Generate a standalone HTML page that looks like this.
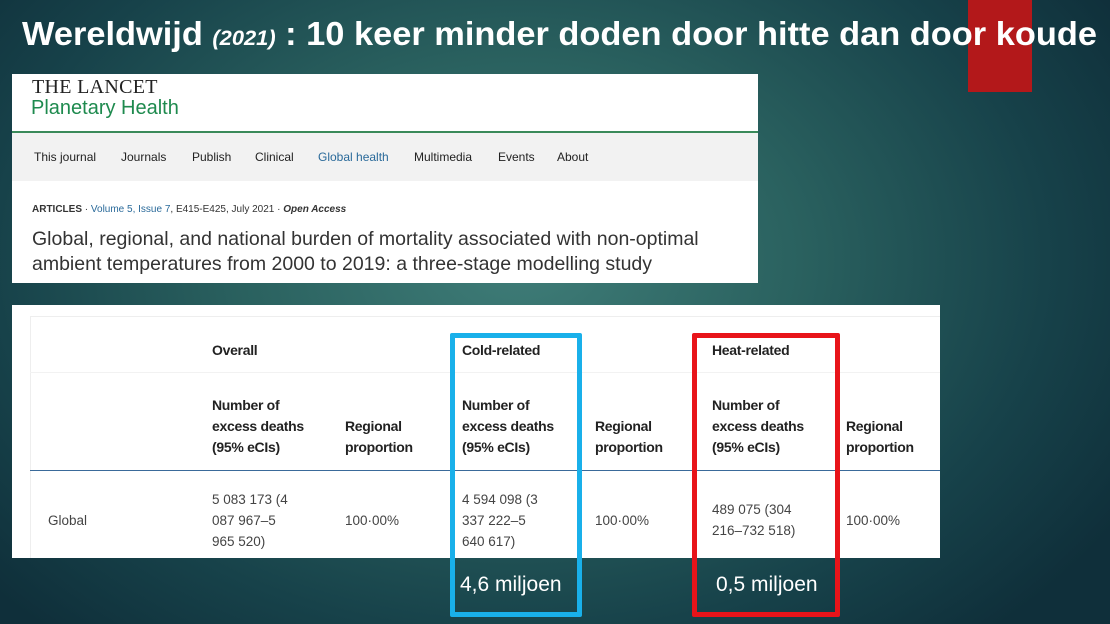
<!DOCTYPE html>
<html><head><meta charset="utf-8"><style>
*{margin:0;padding:0;box-sizing:border-box}
body{width:1110px;height:624px;overflow:hidden;position:relative;font-family:"Liberation Sans",sans-serif;
background:radial-gradient(ellipse 700px 500px at 520px 260px,#3f7d78 0%,#2a615f 40%,#17424a 75%,#0f2f3a 100%);}
.a{position:absolute}
.nav{position:absolute;top:150px;font-size:12px;color:#222}
.th{position:absolute;font-size:14px;font-weight:bold;color:#222;line-height:21px;letter-spacing:-0.3px}
.td{position:absolute;font-size:13.5px;color:#444;line-height:21px}
</style></head><body>
<svg class="a" style="left:0;top:0" width="1110" height="100">
<rect x="968" y="0" width="64" height="92" fill="#b3181a"/>
<text x="22" y="45" fill="#fff" font-family="Liberation Sans,sans-serif" font-weight="bold" font-size="33" textLength="1075" lengthAdjust="spacingAndGlyphs">Wereldwijd <tspan font-style="italic" font-size="21">(2021)</tspan> :  10 keer minder doden door hitte dan door koude</text>
</svg>

<div class="a" style="left:12px;top:74px;width:746px;height:209px;background:#fff">
 <div class="a" style="left:20px;top:2px;font-family:'Liberation Serif',serif;font-size:20px;color:#222;letter-spacing:0.3px">THE LANCET</div>
 <div class="a" style="left:19px;top:23px;font-size:20px;color:#1e8a4e">Planetary Health</div>
 <div class="a" style="left:0;top:57px;width:746px;height:2px;background:#3a8a5a"></div>
 <div class="a" style="left:0;top:59px;width:746px;height:48px;background:#f2f2f2"></div>
 <div class="nav" style="left:22px;top:76px">This journal</div>
 <div class="nav" style="left:109px;top:76px">Journals</div>
 <div class="nav" style="left:180px;top:76px">Publish</div>
 <div class="nav" style="left:243px;top:76px">Clinical</div>
 <div class="nav" style="left:306px;top:76px;color:#2a6a9a">Global health</div>
 <div class="nav" style="left:402px;top:76px">Multimedia</div>
 <div class="nav" style="left:486px;top:76px">Events</div>
 <div class="nav" style="left:545px;top:76px">About</div>
 <div class="a" style="left:20px;top:130px;font-size:10px;color:#333;white-space:nowrap"><b>ARTICLES</b> · <span style="color:#2a6a9a">Volume 5, Issue 7</span>, E415-E425, July 2021 · <b><i>Open Access</i></b></div>
 <div class="a" style="left:20px;top:153px;font-size:19.5px;color:#333;line-height:25px;width:720px">Global, regional, and national burden of mortality associated with non-optimal ambient temperatures from 2000 to 2019: a three-stage modelling study</div>
</div>

<div class="a" style="left:12px;top:305px;width:928px;height:253px;background:#fff;overflow:hidden">
 <div class="a" style="left:18px;top:11px;width:910px;height:1px;background:#eee"></div>
 <div class="a" style="left:18px;top:11px;width:1px;height:250px;background:#eee"></div>
 <div class="a" style="left:18px;top:67px;width:910px;height:1px;background:#f2f2f2"></div>
 <div class="a" style="left:18px;top:165px;width:910px;height:1px;background:#3a6a9a"></div>
 <div class="th" style="left:200px;top:35px">Overall</div>
 <div class="th" style="left:450px;top:35px">Cold-related</div>
 <div class="th" style="left:700px;top:35px">Heat-related</div>
 <div class="th" style="left:200px;top:90px">Number of<br>excess deaths<br>(95% eCIs)</div>
 <div class="th" style="left:333px;top:111px">Regional<br>proportion</div>
 <div class="th" style="left:450px;top:90px">Number of<br>excess deaths<br>(95% eCIs)</div>
 <div class="th" style="left:583px;top:111px">Regional<br>proportion</div>
 <div class="th" style="left:700px;top:90px">Number of<br>excess deaths<br>(95% eCIs)</div>
 <div class="th" style="left:834px;top:111px">Regional<br>proportion</div>
 <div class="td" style="left:36px;top:205px">Global</div>
 <div class="td" style="left:200px;top:184px">5 083 173 (4<br>087 967–5<br>965 520)</div>
 <div class="td" style="left:333px;top:205px">100·00%</div>
 <div class="td" style="left:450px;top:184px">4 594 098 (3<br>337 222–5<br>640 617)</div>
 <div class="td" style="left:583px;top:205px">100·00%</div>
 <div class="td" style="left:700px;top:194px">489 075 (304<br>216–732 518)</div>
 <div class="td" style="left:834px;top:205px">100·00%</div>
</div>

<div class="a" style="left:450px;top:333px;width:132px;height:284px;border:5px solid #19b0ea;border-radius:2px"></div>
<div class="a" style="left:692px;top:333px;width:148px;height:284px;border:5px solid #e8141a;border-radius:2px"></div>
<div class="a" style="left:460px;top:573px;font-size:21px;color:#fff">4,6 miljoen</div>
<div class="a" style="left:716px;top:573px;font-size:21px;color:#fff">0,5 miljoen</div>
</body></html>
